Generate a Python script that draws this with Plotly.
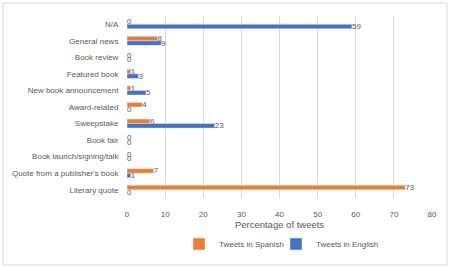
import plotly.graph_objects as go

categories = ["N/A", "General news", "Book review", "Featured book", "New book announcement",
              "Award-related", "Sweepstake", "Book fair", "Book launch/signing/talk",
              "Quote from a publisher's book", "Literary quote"]
spanish = [0, 8, 0, 1, 1, 4, 6, 0, 0, 7, 73]
english = [59, 9, 0, 3, 5, 0, 23, 0, 0, 1, 0]
x_ticks = [0, 10, 20, 30, 40, 50, 60, 70, 80]

font = dict(family="Liberation Sans, Arial, sans-serif", size=8, color="#595959")

fig = go.Figure()
fig.add_trace(go.Bar(y=categories, x=spanish, orientation="h", name="Tweets in Spanish",
                     marker_color="#ED7D31", text=spanish, textposition="outside",
                     textfont=font, cliponaxis=False, constraintext="none",
                     legend="legend", showlegend=True))
fig.add_trace(go.Bar(y=categories, x=english, orientation="h", name="Tweets in English",
                     marker_color="#4472C4", text=english, textposition="outside",
                     textfont=font, cliponaxis=False, constraintext="none",
                     legend="legend2", showlegend=True))

L, R, T, B = 127, 18, 16, 73
W, H = 450, 271
pw, ph = W - L - R, H - T - B
bottom_px = T + ph

leg_common = dict(orientation="h", xanchor="left", y=(bottom_px - 244) / ph, yanchor="middle",
                  font=dict(size=8, color="#595959"), bgcolor="rgba(0,0,0,0)", visible=True,
                  itemwidth=30)

fig.update_layout(
    width=W, height=H, barmode="group", bargap=0.45, bargroupgap=0,
    showlegend=True,
    margin=dict(l=L, r=R, t=T, b=B, autoexpand=False),
    paper_bgcolor="white", plot_bgcolor="white", font=font,
    xaxis=dict(range=[0, 80], tickvals=x_ticks, showgrid=True, gridcolor="#d9d9d9",
               gridwidth=1, zeroline=False, showline=False, ticks="outside", ticklen=8,
               tickcolor="rgba(0,0,0,0)",
               title=dict(text="Percentage of tweets", font=dict(size=9.5, color="#595959"), standoff=2),
               tickfont=dict(size=8, color="#595959")),
    yaxis=dict(autorange="reversed", showgrid=False, showline=False, ticks="outside",
               ticklen=6, tickcolor="rgba(0,0,0,0)",
               tickfont=dict(size=8, color="#595959")),
    legend=dict(x=(179 - L) / pw, **leg_common),
    legend2=dict(x=(276 - L) / pw, **leg_common),
    shapes=[dict(type="rect", xref="paper", yref="paper",
                 x0=(3 - L) / pw, x1=(447 - L) / pw,
                 y0=(bottom_px - 265) / ph, y1=(bottom_px - 3) / ph,
                 line=dict(color="#d9d9d9", width=1))],
)
fig.write_html("out.html")
